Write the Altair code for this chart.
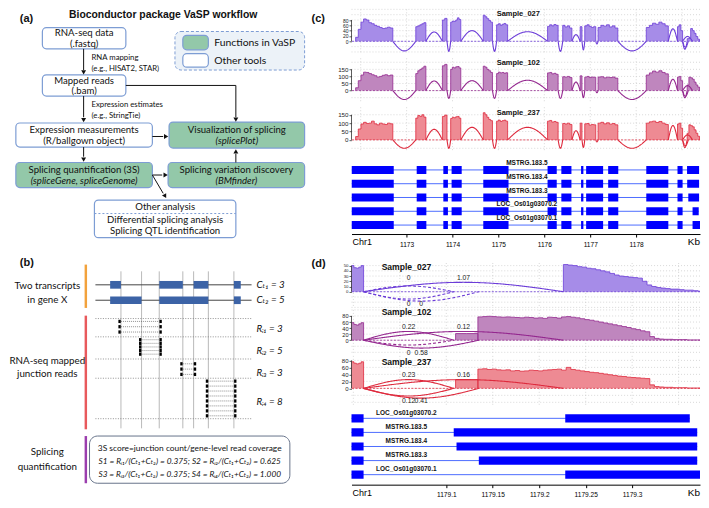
import altair as alt
import numpy as np
import pandas as pd

DIAG_FONT = "Lato, 'DejaVu Sans', sans-serif"
SANS = "'Liberation Sans', Arial, sans-serif"
GREEN = "#93c8a9"
EDGE = "#7d9dd4"
INK = "#111111"

# ======================= DATA =======================
# ---- (a) workflow texts
a_title = "Bioconductor package VaSP workflow"
a_box_lines = [
    ["RNA-seq data", "(.fastq)"],
    ["Mapped reads", "(.bam)"],
    ["Expression measurements", "(R/ballgown object)"],
    ["Visualization of splicing", "(splicePlot)"],
    ["Splicing quantification (3S)", "(spliceGene, spliceGenome)"],
    ["Splicing variation discovery", "(BMfinder)"],
]
a_box_kind = ["other", "other", "other", "vasp", "vasp", "vasp"]
a_other_lines = ["Other analysis", "Differential splicing analysis", "Splicing QTL identification"]
a_legend = ["Functions in VaSP", "Other tools"]
a_notes = ["RNA mapping", "(e.g., HISAT2, STAR)", "Expression estimates", "(e.g., StringTie)"]

# ---- (b) toy gene
b_row_labels = [["Two transcripts", "in gene X"], ["RNA-seq mapped", "junction reads"], ["Splicing", "quantification"]]
b_transcript_counts = [3, 5]      # C_t1, C_t2
b_junction_reads = [3, 5, 3, 8]   # R_i1..R_i4

# ---- (c) coverage (kb positions of covered exons, coverage values)
c_exons = [(1171.89, 1172.70), (1173.20, 1173.42), (1173.78, 1173.88), (1173.96, 1174.18),
           (1174.67, 1174.87), (1174.96, 1175.20), (1176.07, 1176.30), (1176.40, 1176.60),
           (1176.78, 1176.82), (1176.88, 1177.12), (1177.17, 1177.60), (1178.22, 1178.70),
           (1178.90, 1179.011), (1179.11, 1179.38)]
c_cov_027 = [[15, 45, 72, 84, 80, 70, 66, 60, 56, 52, 48, 50, 53, 50], [55, 58, 62, 66, 70], [80, 86],
             [72, 76, 75, 80, 88, 82], [98, 92, 85, 78, 72], [62, 66, 60, 64, 67, 62], [56, 62, 58, 63, 60],
             [60, 54, 58, 50], [55], [58, 62, 56, 52, 55], [52, 60, 57, 62, 54, 58, 50],
             [52, 60, 68, 64, 72, 66, 58], [55, 62, 40], [10, 12, 48, 40, 30, 18, 8]]
c_cov_102 = [[20, 70, 110, 130, 128, 120, 112, 105, 95, 100, 108, 112, 105, 110], [120, 140, 150, 160, 172],
             [175, 185], [150, 165, 160, 168, 170, 160], [172, 165, 150, 140, 128], [120, 130, 125, 128, 122, 126],
             [125, 128, 118, 122, 115], [98, 95, 100, 92], [104], [95, 100, 92, 96, 94],
             [96, 98, 90, 95, 92, 96, 88], [110, 125, 138, 130, 140, 128, 118], [95, 100, 70],
             [40, 95, 90, 80, 60, 40, 25]]
c_cov_237 = [[20, 65, 95, 105, 98, 100, 112, 96, 90, 100, 95, 92, 100, 96], [130, 146, 140, 150, 136],
             [140, 148], [128, 135, 132, 138, 140, 130], [162, 150, 135, 122, 115], [112, 118, 110, 115, 118, 112],
             [112, 116, 106, 110, 105], [98, 95, 100, 92], [100], [96, 98, 88, 92, 90],
             [100, 105, 96, 102, 94, 98, 90], [100, 108, 112, 104, 110, 100, 92], [95, 100, 70],
             [40, 90, 85, 78, 60, 40, 22]]
c_junctions = [(1172.70, 1173.20), (1173.42, 1173.78), (1173.88, 1173.96), (1174.18, 1174.67),
               (1174.87, 1174.96), (1175.20, 1176.07), (1176.30, 1176.40), (1176.60, 1176.78),
               (1176.82, 1176.88), (1177.12, 1177.17), (1177.60, 1178.22), (1178.70, 1178.90),
               (1179.011, 1179.11), (1179.011, 1179.135), (1179.011, 1179.226)]
c_arc_027 = [-36, 35, -38, 40, -38, 36, -38, 25, -32, -10, -36, 47, -30, -22, 18]
c_arc_102 = [-63, 68, -55, 70, -55, 73, -55, 60, -50, -15, -63, 80, -50, -40, 35]
c_arc_237 = [-50, 63, -50, 75, -50, 75, -50, 55, -45, -12, -50, 86, -45, -35, 30]

# ---- transcripts (exons in kb)
tx_common = [(1171.80, 1172.72), (1173.22, 1173.43), (1173.80, 1173.90), (1173.98, 1174.20),
             (1174.67, 1175.22), (1176.07, 1176.27), (1176.37, 1176.59), (1176.80, 1176.85),
             (1176.91, 1177.28), (1177.39, 1177.61), (1178.22, 1178.70), (1178.90, 1179.011)]
tx_last_exon = {
    "LOC_Os01g03070.2": (1179.228, 1179.362),
    "MSTRG.183.5": (1179.108, 1179.370),
    "MSTRG.183.4": (1179.111, 1179.370),
    "MSTRG.183.3": (1179.135, 1179.370),
    "LOC_Os01g03070.1": (1179.228, 1179.400),
}
c_tx_order = ["MSTRG.183.5", "MSTRG.183.4", "MSTRG.183.3", "LOC_Os01g03070.2", "LOC_Os01g03070.1"]
d_tx_order = ["LOC_Os01g03070.2", "MSTRG.183.5", "MSTRG.183.4", "MSTRG.183.3", "LOC_Os01g03070.1"]

# ---- (d) zoomed coverage
d_left_exon = (1178.998, 1179.011)
d_step_exon = (1179.110, 1179.134)
d_bin = 0.005
d_left_027 = [50, 46, 45, 47, 50]
d_main_027_start = 1179.226
d_main_027 = [52, 51, 50, 48, 47, 45, 44, 42, 40, 38, 35, 32, 30, 29, 28, 27, 26, 20, 13, 10,
              8, 7, 6, 5, 5, 4, 3, 3, 2, 1]
d_left_102 = [58, 52, 50, 54, 58]
d_step_102 = [22, 22]
d_main_102_start = 1179.134
d_main_102 = [77, 78, 79, 78, 77, 76, 77, 76, 75, 74, 76, 75, 73, 74, 72, 76, 75, 73, 77, 78,
              76, 74, 71, 68, 66, 63, 60, 57, 54, 51, 48, 45, 42, 38, 35, 31, 28, 12, 6, 4,
              3, 3, 2, 2, 2, 1, 1, 1]
d_left_237 = [76, 72, 70, 72, 76]
d_step_237 = [25, 25]
d_main_237 = [55, 56, 54, 55, 53, 52, 53, 50, 51, 49, 50, 52, 51, 50, 52, 53, 54, 55, 52, 60,
              54, 52, 50, 48, 46, 45, 43, 41, 39, 37, 35, 34, 32, 31, 30, 29, 28, 10, 5, 4,
              3, 3, 2, 2, 2, 1, 1, 1]
# junctions: start, end, arc height, label, dashed, label height
d_junc_027 = [(1179.011, 1179.226, 18, "1.07", False, 27), (1179.011, 1179.108, 11, "0", True, 27),
              (1179.011, 1179.108, -14, "0", True, -24), (1179.011, 1179.135, -18, "0", True, -24)]
d_junc_102 = [(1179.011, 1179.108, 29, "0.22", False, 45), (1179.011, 1179.226, 29, "0.12", False, 45),
              (1179.011, 1179.108, -16, "0", True, -42), (1179.011, 1179.135, -26, "0.58", False, -42)]
d_junc_237 = [(1179.011, 1179.108, 25, "0.23", False, 39), (1179.011, 1179.226, 25, "0.16", False, 39),
              (1179.011, 1179.108, -22, "0.12", False, -36), (1179.011, 1179.135, -28, "0.41", False, -36)]

C_TICKS = [1173, 1174, 1175, 1176, 1177, 1178]
D_TICKS = [1179.1, 1179.15, 1179.2, 1179.25, 1179.3]

COL = {"027": ("#6C3DD8", "#A68CE8"), "102": ("#94288F", "#BF86BE"), "237": ("#DE2A3D", "#EE8A93")}

# ======================= LEFT: diagram (figure pixel units) =======================
XS_A = alt.Scale(domain=[0, 304], nice=False, zero=False)
YS_A = alt.Scale(domain=[0, 508], nice=False, zero=False, reverse=True)


def XA(f):
    return alt.X(f, type="quantitative", scale=XS_A, axis=None)


def YA(f):
    return alt.Y(f, type="quantitative", scale=YS_A, axis=None)


def rect_layer(rows, **mk):
    df = pd.DataFrame(rows, columns=["x1", "x2", "y1", "y2"])
    return alt.Chart(df).mark_rect(**mk).encode(x=XA("x1"), x2="x2", y=YA("y1"), y2="y2")


def rule_layer(rows, **mk):
    df = pd.DataFrame(rows, columns=["x1", "y1", "x2", "y2"])
    return alt.Chart(df).mark_rule(**mk).encode(x=XA("x1"), x2="x2", y=YA("y1"), y2="y2")


text_rows = []


def T(x, y, text, size=9.3, style="normal", weight="normal", align="center", font=DIAG_FONT, color=INK):
    text_rows.append((x, y, text, size, style, weight, align, font, color))


box_geom = [(35, 120, 19, 41), (35, 120, 68, 90), (8, 147, 118, 143), (164, 302, 117, 144),
            (8, 147, 159, 185), (163, 302, 159, 185)]
left_layers = []
left_layers.append(rect_layer([(170, 302, 23, 63)], fill="#ecf2f8", stroke=EDGE, strokeDash=[3, 2],
                              strokeWidth=1, cornerRadius=6))
green_boxes = [g for g, k in zip(box_geom, a_box_kind) if k == "vasp"] + [(178, 204, 27, 42)]
white_boxes = [g for g, k in zip(box_geom, a_box_kind) if k == "other"] + [(178, 204, 46, 60), (88, 232, 198, 237)]
left_layers.append(rect_layer(green_boxes, fill=GREEN, stroke=EDGE, strokeWidth=1.2, cornerRadius=4))
left_layers.append(rect_layer(white_boxes, fill="white", stroke=EDGE, strokeWidth=1.2, cornerRadius=4))
left_layers.append(rule_layer([(88, 212, 232, 212)], color=EDGE, strokeDash=[2, 2], strokeWidth=1))

for g, lines, kind in zip(box_geom, a_box_lines, a_box_kind):
    cx = (g[0] + g[1]) / 2
    cy = (g[2] + g[3]) / 2 + 0.5
    T(cx, cy - 5.6, lines[0], size=9.6)
    T(cx, cy + 5.6, lines[1], size=9.6, style="italic" if kind == "vasp" else "normal")
for yy, line in zip([205, 219, 230.5], a_other_lines):
    T(160, yy, line, size=9.6)
for yy, line in zip([34.5, 53.5], a_legend):
    T(210, yy, line, size=10.4, align="left")
for yy, line in zip([50, 61.5, 99, 110.5], a_notes):
    T(85, yy, line, size=7.8, align="left")
T(158, 5.5, a_title, size=10.4, weight="bold", font=SANS)
T(12, 10, "(a)", size=11, weight="bold", font=SANS, align="left")
T(12, 263, "(b)", size=11, weight="bold", font=SANS, align="left")

arrow_segs = [(77, 41, 77, 63), (77, 90, 77, 112), (120, 79, 232, 79), (232, 79, 232, 112),
              (147, 132, 158, 132), (77, 143, 77, 153), (147, 172, 157, 172), (232, 159, 232, 150),
              (147, 172, 158, 191)]
left_layers.append(rule_layer(arrow_segs, color=INK, strokeWidth=1))
heads = pd.DataFrame([(77, 65.5, 180), (77, 115, 180), (232, 114.5, 180), (161, 132, 90), (77, 156, 180),
                      (160.5, 172, 90), (232, 147.5, 0), (160, 194, 150)], columns=["x", "y", "ang"])
left_layers.append(alt.Chart(heads).mark_point(shape="triangle-up", filled=True, size=24, color=INK, opacity=1)
                   .encode(x=XA("x"), y=YA("y"), angle=alt.Angle("ang:Q", scale=None)))

# ---- panel (b)
bars = [(78, 80.5, 265, 310), (78, 80.5, 318, 436), (78, 80.5, 443, 492)]
for b, c in zip(bars, ["#f2a23c", "#e8595c", "#9b3eae"]):
    left_layers.append(rect_layer([b], fill=c))
grid_x = [115, 136, 154, 178, 189, 204, 230]
left_layers.append(rule_layer([(gx, 272, gx, 435) for gx in grid_x], color="#9a9a9a", strokeWidth=0.7))
left_layers.append(rule_layer([(89, 286, 248, 286), (89, 302, 248, 302)], color="#444", strokeWidth=1))
t_exons = [[(104, 115), (154, 178), (189, 204), (230, 237)], [(104, 136), (154, 204), (230, 237)]]
ex_rows = []
for ty, exs in zip([286, 302], t_exons):
    for s, e in exs:
        ex_rows.append((s, e, ty - 4, ty + 4))
left_layers.append(rect_layer(ex_rows, fill="#3c63a6"))
left_layers.append(rule_layer([(89, yy, 248, yy) for yy in [321, 340, 363, 383, 425]],
                              color="#777", strokeDash=[1, 1.5], strokeWidth=0.8))
junction_x = [(115, 154), (136, 154), (178, 189), (204, 230)]
read_span = [(324, 335), (343, 358), (368, 379), (386, 422)]
sq, dl = [], []
for (xa, xb), (ya, yb), n in zip(junction_x, read_span, b_junction_reads):
    for i in range(n):
        yy = ya + (yb - ya) * i / max(n - 1, 1)
        sq.append((xa - 2.6, xa - 0.2, yy - 1.7, yy + 1.7))
        sq.append((xb + 0.2, xb + 2.6, yy - 1.7, yy + 1.7))
        dl.append((xa, yy, xb, yy))
left_layers.append(rule_layer(dl, color="#444", strokeDash=[1, 1], strokeWidth=0.6))
left_layers.append(rect_layer(sq, fill="black"))
left_layers.append(rect_layer([(83, 287, 443, 492)], fill="white", stroke="#66728a", strokeWidth=1, cornerRadius=8))

SUB = "₁₂₃₄"
for (yy1, yy2), lab in zip([(287, 302), (365, 379), (460, 475)], b_row_labels):
    T(40, yy1, lab[0], size=9.8)
    T(40, yy2, lab[1], size=9.8)
for i, (yy, c) in enumerate(zip([286, 302], b_transcript_counts)):
    T(253, yy, f"Cₜ{SUB[i]} = {c}", size=9.8, style="italic", align="left")
for i, (yy, r) in enumerate(zip([332, 355, 378, 408], b_junction_reads)):
    T(253, yy, f"Rᵢ{SUB[i]} = {r}", size=9.8, style="italic", align="left")
tot = sum(b_transcript_counts)
sc = [r / tot for r in b_junction_reads]
T(185, 455, "3S score=junction count/gene-level read coverage", size=8.4)
T(185, 470, f"S1 = Rᵢ₁/(Cₜ₁+Cₜ₂) = {sc[0]:.3f}; S2 = Rᵢ₂/(Cₜ₁+Cₜ₂) = {sc[1]:.3f}", size=8.3, style="italic")
T(185, 483, f"S3 = Rᵢ₃/(Cₜ₁+Cₜ₂) = {sc[2]:.3f}; S4 = Rᵢ₄/(Cₜ₁+Cₜ₂) = {sc[3]:.3f}", size=8.3, style="italic")

tdf = pd.DataFrame(text_rows, columns=["x", "y", "text", "size", "style", "weight", "align", "font", "color"])
for key, g in tdf.groupby(["size", "style", "weight", "align", "font", "color"], sort=False):
    size, style, weight, align, font, color = key
    left_layers.append(
        alt.Chart(g[["x", "y", "text"]].reset_index(drop=True))
        .mark_text(fontSize=float(size), fontStyle=style, fontWeight=weight, align=align,
                   baseline="middle", font=font, color=color)
        .encode(x=XA("x"), y=YA("y"), text="text:N")
    )

left = alt.layer(*left_layers).properties(width=299, height=490)

# ======================= RIGHT: tracks =======================
W = 349
C_DOM = [1171.80, 1179.39]
D_DOM = [1178.998, 1179.373]


def cov_frame(segments):
    rows = []
    for k, (s, e, vals) in enumerate(segments):
        xs = np.linspace(s, e, len(vals) + 1)
        rows.append((s - 1e-6, 0.0, k))
        for x, v in zip(xs[:-1], vals):
            rows.append((float(x), float(v), k))
        rows.append((e, 0.0, k))
    return pd.DataFrame(rows, columns=["x", "v", "seg"])


def arc_frame(juncs):
    rows = []
    t = np.linspace(0, 1, 31)
    for k, (s, e, h, dashed) in enumerate(juncs):
        for tt in t:
            rows.append((s + (e - s) * tt, h * np.sin(np.pi * tt), k, "dashed" if dashed else "solid"))
    return pd.DataFrame(rows, columns=["x", "v", "arc", "dash"])


def track(segments, juncs, key, xdom, ydom, yticks, gstep, h, title, tx, ty, xgrid, tsize,
          panel=None, panel_y=0, labels=None, lab_size=6.3):
    line_c, fill_c = COL[key]
    xs = alt.Scale(domain=xdom, nice=False, zero=False)
    ys = alt.Scale(domain=ydom, nice=False, zero=False)
    yaxis = alt.Axis(values=yticks, domain=False, grid=False, ticks=True, tickSize=2.5, tickWidth=0.8,
                     tickColor="#333", labelFontSize=lab_size, labelFont=SANS, labelPadding=1,
                     labelColor="#222", title=None, labelOverlap=False)

    def X(f):
        return alt.X(f, type="quantitative", scale=xs, axis=None)

    def Yn(f):
        return alt.Y(f, type="quantitative", scale=ys, axis=yaxis)

    lo = int(np.ceil(ydom[0] / gstep))
    hi = int(np.floor(ydom[1] / gstep))
    gv = [gstep * i for i in range(lo, hi + 1)]
    cov = cov_frame(segments)
    arcs = arc_frame(juncs)
    layers = [
        alt.Chart(pd.DataFrame({"v": gv})).mark_rule(color="#c8c8c8", strokeDash=[1, 2], strokeWidth=0.7)
        .encode(y=Yn("v")),
        alt.Chart(pd.DataFrame({"v": xgrid})).mark_rule(color="#c8c8c8", strokeDash=[1, 2], strokeWidth=0.7)
        .encode(x=X("v")),
        alt.Chart(cov).mark_area(interpolate="step-after", color=fill_c, clip=True)
        .encode(x=X("x"), y=Yn("v"), y2=alt.datum(0), detail="seg:N"),
        alt.Chart(cov).mark_line(interpolate="step-after", color=line_c, strokeWidth=0.8, clip=True)
        .encode(x=X("x"), y=Yn("v"), detail="seg:N"),
        alt.Chart(pd.DataFrame({"v": [0]})).mark_rule(color=line_c, strokeDash=[2, 1.5], strokeWidth=0.8)
        .encode(y=Yn("v")),
        alt.Chart(arcs).mark_line(color=line_c, strokeWidth=1.1, clip=True)
        .encode(x=X("x"), y=Yn("v"), detail="arc:N",
                strokeDash=alt.StrokeDash("dash:N", scale=alt.Scale(domain=["solid", "dashed"],
                                                                      range=[[1, 0], [3, 2]]), legend=None)),
        alt.Chart(pd.DataFrame({"a": [0], "b": [yticks[-1]]})).mark_rule(color="#333", strokeWidth=0.8)
        .encode(x=alt.value(0), y=Yn("a"), y2="b"),
        alt.Chart(pd.DataFrame({"t": [title]})).mark_text(font=SANS, fontWeight="bold", fontSize=tsize,
                                                          baseline="middle", align="center", color="#111")
        .encode(x=alt.value(tx), y=alt.value(ty), text="t:N"),
    ]
    if labels is not None:
        layers.append(alt.Chart(labels).mark_text(font=SANS, fontSize=6.8, color="#222", baseline="middle")
                      .encode(x=X("x"), y=Yn("y"), text="t:N"))
    if panel:
        layers.append(alt.Chart(pd.DataFrame({"t": [panel]})).mark_text(font=SANS, fontWeight="bold", fontSize=11,
                                                                        align="left", baseline="middle", color="#111")
                      .encode(x=alt.value(-40), y=alt.value(panel_y), text="t:N"))
    return alt.layer(*layers).properties(width=W, height=h)


def tx_exons(name):
    return tx_common + [tx_last_exon[name]]


def gene_track(order, xdom, ydom, h, xticks, fmt, lab_x, lab_dy):
    xs = alt.Scale(domain=xdom, nice=False, zero=False)
    ys = alt.Scale(domain=ydom, nice=False, zero=False, reverse=True)
    xaxis = alt.Axis(values=xticks, format=fmt, domain=True, domainColor="#000", domainWidth=1, ticks=True,
                     tickColor="#000", tickSize=3, labelFontSize=6.6, labelFont=SANS, labelPadding=4,
                     labelColor="#000", title=None, grid=False, labelFlush=False)

    def X(f):
        return alt.X(f, type="quantitative", scale=xs, axis=xaxis)

    def Yn(f):
        return alt.Y(f, type="quantitative", scale=ys, axis=None)

    ex_rows, in_rows, lab_rows = [], [], []
    for r, name in enumerate(order):
        ex = tx_exons(name)
        in_rows.append((ex[0][0], ex[-1][1], r))
        for s, e in ex:
            ex_rows.append((s, e, r - 0.29, r + 0.29))
        lab_rows.append((lab_x, r - lab_dy, name))
    exdf = pd.DataFrame(ex_rows, columns=["s", "e", "y1", "y2"])
    indf = pd.DataFrame(in_rows, columns=["s", "e", "r"])
    labdf = pd.DataFrame(lab_rows, columns=["x", "y", "t"])
    layers = [
        alt.Chart(indf).mark_rule(color="#3a5cff", strokeWidth=0.9, clip=True)
        .encode(x=X("s"), x2="e", y=Yn("r")),
        alt.Chart(exdf).mark_rect(color="#0000ff", clip=True)
        .encode(x=X("s"), x2="e", y=Yn("y1"), y2="y2"),
        alt.Chart(labdf).mark_text(font=SANS, fontWeight="bold", fontSize=6.5, color="#111", baseline="middle")
        .encode(x=X("x"), y=Yn("y"), text="t:N"),
        alt.Chart(pd.DataFrame({"t": ["Chr1"]})).mark_text(font=SANS, fontSize=9, align="left",
                                                           baseline="middle", color="#000")
        .encode(x=alt.value(1), y=alt.value(h + 8), text="t:N"),
        alt.Chart(pd.DataFrame({"t": ["Kb"]})).mark_text(font=SANS, fontSize=10, align="right",
                                                         baseline="middle", color="#000")
        .encode(x=alt.value(W), y=alt.value(h + 8), text="t:N"),
    ]
    return alt.layer(*layers).properties(width=W, height=h)


def spacer(h):
    return (alt.Chart(pd.DataFrame({"z": [0]})).mark_point(opacity=0)
            .encode(x=alt.value(0), y=alt.value(0)).properties(width=W, height=h))


def c_segments(vals):
    return [(s, e, v) for (s, e), v in zip(c_exons, vals)]


def c_juncs(h):
    return [(s, e, hh, False) for (s, e), hh in zip(c_junctions, h)]


def d_segments(left_vals, step_vals, main_start, main_vals):
    segs = [(d_left_exon[0], d_left_exon[1], left_vals)]
    if step_vals is not None:
        segs.append((d_step_exon[0], d_step_exon[1], step_vals))
    segs.append((main_start, main_start + d_bin * len(main_vals), main_vals))
    return segs


def d_juncs(j):
    return [(s, e, h, dsh) for s, e, h, _, dsh, _ in j]


def d_labels(j):
    return pd.DataFrame([((s + e) / 2, ly, lab) for s, e, h, lab, dsh, ly in j], columns=["x", "y", "t"])


c_grid = [1172, 1173, 1174, 1175, 1176, 1177, 1178, 1179]
d_grid = [1179.0, 1179.05, 1179.1, 1179.15, 1179.2, 1179.25, 1179.3, 1179.35]

c1 = track(c_segments(c_cov_027), c_juncs(c_arc_027), "027", C_DOM, [-45, 120], [0, 20, 40, 60, 80], 20, 44,
           "Sample_027", 167, 4.8, c_grid, 7.5, panel="(c)", panel_y=9.7, lab_size=5.0)
c2 = track(c_segments(c_cov_102), c_juncs(c_arc_102), "102", C_DOM, [-82, 228], [0, 50, 100, 150], 50, 44,
           "Sample_102", 167, 4.3, c_grid, 7.5, lab_size=6.2)
c3 = track(c_segments(c_cov_237), c_juncs(c_arc_237), "237", C_DOM, [-67, 195], [0, 50, 100, 150], 50, 44,
           "Sample_237", 167, 5.6, c_grid, 7.5, lab_size=6.2)
cg = gene_track(c_tx_order, C_DOM, [-1.0, 4.65], 78, C_TICKS, "d", 1175.62, 0.5)

d1 = track(d_segments(d_left_027, None, d_main_027_start, d_main_027), d_juncs(d_junc_027), "027", D_DOM,
           [-31, 55], [0, 10, 20, 30, 40, 50], 10, 45, "Sample_027", 55, 3.6, d_grid, 8.6,
           panel="(d)", panel_y=0.7, labels=d_labels(d_junc_027), lab_size=4.4)
d2 = track(d_segments(d_left_102, d_step_102, d_main_102_start, d_main_102), d_juncs(d_junc_102), "102", D_DOM,
           [-45, 100], [0, 20, 40, 60, 80], 20, 44, "Sample_102", 55, 2.5, d_grid, 8.6,
           labels=d_labels(d_junc_102), lab_size=5.6)
d3 = track(d_segments(d_left_237, d_step_237, d_main_102_start, d_main_237), d_juncs(d_junc_237), "237", D_DOM,
           [-47, 93], [0, 20, 40, 60, 80], 20, 49, "Sample_237", 55, 6.5, d_grid, 8.6,
           labels=d_labels(d_junc_237), lab_size=6.0)
dg = gene_track(d_tx_order, D_DOM, [-0.82, 4.71], 78, D_TICKS, ".2~f", 1179.057, 0.41)

right = alt.vconcat(c1, spacer(1), c2, spacer(1), c3, spacer(1), cg, spacer(25), d1, d2, d3, dg,
                    spacing=2, bounds="flush")

chart = (alt.hconcat(left, right, spacing=5)
         .properties(padding=0)
         .configure_view(stroke=None))

chart.save("out.html", embed_options={"renderer": "svg", "actions": False})
